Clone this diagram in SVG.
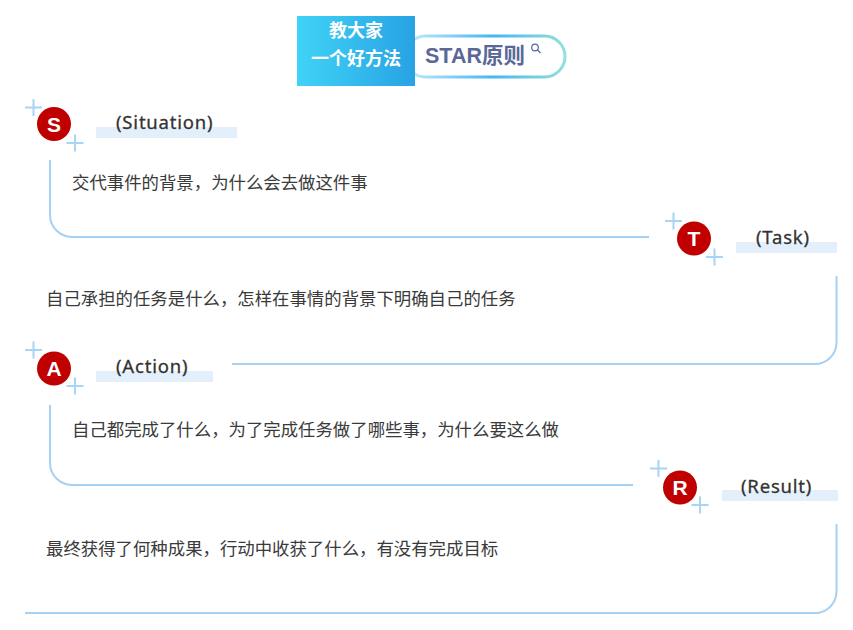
<svg xmlns="http://www.w3.org/2000/svg" width="853" height="630" viewBox="0 0 853 630">
<defs>
<linearGradient id="gBox" x1="0" y1="0" x2="1" y2="0">
<stop offset="0" stop-color="#3fd3f6"/>
<stop offset="1" stop-color="#28a2e4"/>
</linearGradient>
<linearGradient id="gPill" x1="0" y1="0" x2="1" y2="0">
<stop offset="0" stop-color="#c6ecfb"/>
<stop offset="0.55" stop-color="#45b6ef"/>
<stop offset="1" stop-color="#92e0dc"/>
</linearGradient>
</defs>
<style>
.ln{fill:none;stroke:#a6d1f4;stroke-width:2;}
.plus{stroke:#a8d4f5;stroke-width:2;fill:none;}
.dot{fill:#c00000;}
.letter{font-family:"Liberation Sans",Arial,sans-serif;font-weight:bold;font-size:21px;fill:#fff;text-anchor:middle;}
.band{fill:#e3f0fc;}
.lbl{font-family:"Noto Sans","Liberation Sans",sans-serif;font-size:18.5px;letter-spacing:0.8px;fill:#333;stroke:#333;stroke-width:0.3;}
.body{font-family:"Noto Sans CJK SC",sans-serif;font-size:17.4px;fill:#3a3a3a;}
.title{font-family:"Noto Sans CJK SC",sans-serif;font-weight:bold;font-size:18px;fill:#fff;text-anchor:middle;}
</style>
<rect width="853" height="630" fill="#fff"/>

<g id="title">
<rect x="405" y="36" width="160" height="41" rx="20.5" fill="#fff" stroke="url(#gPill)" stroke-width="3"/>
<rect x="297" y="16" width="118" height="70" fill="url(#gBox)"/>
<text class="title" x="356" y="37">教大家</text>
<text class="title" x="356" y="65">一个好方法</text>
<text x="425" y="63" font-family="'Liberation Sans','Noto Sans CJK SC',sans-serif" font-weight="bold" font-size="21.5" fill="#5a6897">STAR原则</text>
<circle cx="535" cy="47.5" r="3.3" fill="none" stroke="#5a6897" stroke-width="1.2"/>
<line x1="537.5" y1="50" x2="540.5" y2="53" stroke="#5a6897" stroke-width="1.3"/>
</g>

<g id="connectors">
<path class="ln" d="M50,160 V215 A22,22 0 0 0 72,237 H649"/>
<path class="ln" d="M232,364 H815 A21.5,21.5 0 0 0 836.5,342.5 V276"/>
<path class="ln" d="M50,405 V463 A22,22 0 0 0 72,485 H633"/>
<path class="ln" d="M25,613 H815 A21.5,21.5 0 0 0 836.5,591.5 V524"/>
</g>

<g id="node-s">
<path class="plus" d="M25,107.5 H42 M33.5,99 V116"/>
<path class="plus" d="M66.5,143 H83.5 M75,134.5 V151.5"/>
<circle class="dot" cx="54" cy="124" r="17"/>
<text class="letter" x="54" y="131.5">S</text>
<rect class="band" x="96" y="127" width="141" height="11"/>
<text class="lbl" x="116" y="129">(Situation)</text>
<text class="body" x="72" y="189">交代事件的背景，为什么会去做这件事</text>
</g>

<g id="node-t">
<path class="plus" d="M665,221 H682 M673.5,212.5 V229.5"/>
<path class="plus" d="M706,257 H723 M714.5,248.5 V265.5"/>
<circle class="dot" cx="694" cy="238.5" r="17"/>
<text class="letter" x="694" y="246">T</text>
<rect class="band" x="736" y="242" width="101" height="11"/>
<text class="lbl" x="756" y="244">(Task)</text>
<text class="body" x="46" y="305">自己承担的任务是什么，怎样在事情的背景下明确自己的任务</text>
</g>

<g id="node-a">
<path class="plus" d="M25,350 H42 M33.5,341.5 V358.5"/>
<path class="plus" d="M66.5,386 H83.5 M75,377.5 V394.5"/>
<circle class="dot" cx="54" cy="368.5" r="17"/>
<text class="letter" x="54" y="376">A</text>
<rect class="band" x="96" y="371" width="117" height="11"/>
<text class="lbl" x="116" y="373">(Action)</text>
<text class="body" x="72" y="436">自己都完成了什么，为了完成任务做了哪些事，为什么要这么做</text>
</g>

<g id="node-r">
<path class="plus" d="M650,468.5 H667 M658.5,460 V477"/>
<path class="plus" d="M691.5,505 H708.5 M700,496.5 V513.5"/>
<circle class="dot" cx="680" cy="487.5" r="17"/>
<text class="letter" x="680" y="495">R</text>
<rect class="band" x="722" y="490" width="116" height="11"/>
<text class="lbl" x="741" y="493">(Result)</text>
<text class="body" x="46" y="555">最终获得了何种成果，行动中收获了什么，有没有完成目标</text>
</g>
</svg>
